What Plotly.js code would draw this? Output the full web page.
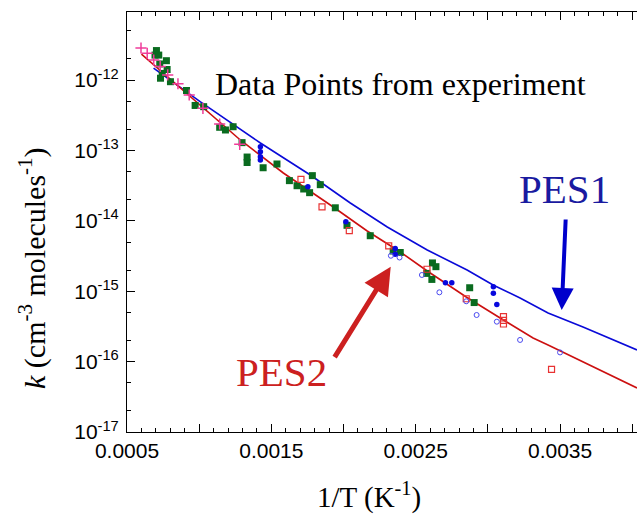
<!DOCTYPE html>
<html>
<head>
<meta charset="utf-8">
<script src="https://cdn.plot.ly/plotly-3.0.1.min.js"></script>
<style>html,body{margin:0;padding:0;background:#fff;}#chart{width:637px;height:516px;}</style>
</head>
<body>
<div id="chart"></div>
<script>
// PES1 calculated curve (1/T, k)
const pes1X = [0.000684, 0.001009, 0.001424, 0.00177, 0.002047, 0.002303, 0.00258, 0.002856, 0.003036, 0.003223, 0.003417, 0.003659, 0.004033];
const pes1K = [1.479e-12, 4.875e-13, 1.274e-13, 4.477e-14, 1.791e-14, 8.17e-15, 3.846e-15, 2.0e-15, 1.225e-15, 8.0e-16, 4.9e-16, 3.1e-16, 1.462e-16];
// PES2 calculated curve
const pes2X = [0.0006, 0.001009, 0.001285, 0.001583, 0.001929, 0.002164, 0.002393, 0.00258, 0.00285, 0.003085, 0.003313, 0.003417, 0.003777, 0.004033];
const pes2K = [2.339e-12, 4.28e-13, 1.406e-13, 4.775e-14, 1.570e-14, 7.16e-15, 3.61e-15, 1.936e-15, 8.28e-16, 4.16e-16, 2.163e-16, 1.722e-16, 7.60e-17, 4.22e-17];

// experimental data sets
const plusX = [0.000597, 0.00064, 0.000685, 0.00073, 0.000782, 0.000853, 0.000931, 0.001026, 0.001142, 0.001281];
const plusK = [2.85e-12, 2.39e-12, 1.92e-12, 1.56e-12, 1.18e-12, 8.85e-13, 6.12e-13, 3.96e-13, 2.37e-13, 1.22e-13];

const greenX = [0.000704, 0.000694, 0.00072, 0.000773, 0.000727, 0.000778, 0.000744, 0.000732, 0.000801, 0.000912, 0.000972, 0.001031, 0.001142, 0.001182, 0.001235, 0.001297, 0.001332, 0.001332, 0.001443, 0.001539, 0.001625, 0.001678, 0.001724, 0.001765, 0.001784, 0.001839, 0.001943, 0.002024, 0.002185, 0.002344, 0.002393, 0.002616, 0.00264, 0.002577, 0.002612, 0.002874, 0.002905];
const greenK = [2.62e-12, 2.26e-12, 2.26e-12, 1.88e-12, 1.69e-12, 1.41e-12, 1.24e-12, 1.06e-12, 9.46e-13, 7.10e-13, 4.35e-13, 4.18e-13, 2.13e-13, 1.95e-13, 2.17e-13, 1.29e-13, 8.05e-14, 6.73e-14, 5.67e-14, 6.41e-14, 3.72e-14, 3.15e-14, 2.83e-14, 2.51e-14, 4.38e-14, 3.26e-14, 1.53e-14, 8.63e-15, 6.14e-15, 3.72e-15, 3.55e-15, 2.52e-15, 2.23e-15, 1.79e-15, 1.47e-15, 1.12e-15, 6.90e-16];

const bdotX = [0.001424, 0.001424, 0.001424, 0.001424, 0.001753, 0.002016, 0.002358, 0.002358, 0.002706, 0.00275, 0.003038, 0.003038, 0.003062];
const bdotK = [1.13e-13, 9.60e-14, 8.15e-14, 7.31e-14, 3.05e-14, 9.70e-15, 4.05e-15, 3.36e-15, 1.32e-15, 1.32e-15, 1.16e-15, 9.33e-16, 6.47e-16];

const rsqX = [0.001705, 0.001851, 0.00204, 0.002313, 0.002578, 0.00285, 0.003108, 0.003108, 0.003108, 0.003441];
const rsqK = [3.88e-14, 1.58e-14, 7.23e-15, 4.39e-15, 2.05e-15, 7.81e-16, 4.34e-16, 3.84e-16, 3.42e-16, 7.73e-17];

const bcirX = [0.002328, 0.002388, 0.002543, 0.002664, 0.00285, 0.002922, 0.003062, 0.003223, 0.0035];
const bcirK = [3.19e-15, 3.01e-15, 1.70e-15, 9.64e-16, 7.19e-16, 4.59e-16, 3.69e-16, 2.03e-16, 1.35e-16];

// axis ticks
const xTickVals = [0.0005, 0.001, 0.0015, 0.002, 0.0025, 0.003, 0.0035, 0.004];
const xTickText = ['0.0005', '', '0.0015', '', '0.0025', '', '0.0035', ''];
const yTickVals = [1e-17, 1e-16, 1e-15, 1e-14, 1e-13, 1e-12, 1e-11];
const yTickText = ['10<sup>-17</sup>', '10<sup>-16</sup>', '10<sup>-15</sup>', '10<sup>-14</sup>', '10<sup>-13</sup>', '10<sup>-12</sup>', '10<sup>-11</sup>'];

const traces = [
  {x: pes1X, y: pes1K, mode: 'lines', line: {color: '#0a0ad8', width: 1.6}},
  {x: pes2X, y: pes2K, mode: 'lines', line: {color: '#cc1010', width: 1.6}},
  {x: greenX, y: greenK, mode: 'markers', marker: {symbol: 'square', size: 7, color: '#0a6b1f'}},
  {x: plusX, y: plusK, mode: 'markers', marker: {symbol: 'cross-thin', size: 8, line: {color: '#f03c9a', width: 1.5}}},
  {x: bdotX, y: bdotK, mode: 'markers', marker: {symbol: 'circle', size: 5.5, color: '#0808dd'}},
  {x: rsqX, y: rsqK, mode: 'markers', marker: {symbol: 'square-open', size: 6, color: '#e83232', line: {width: 1.2}}},
  {x: bcirX, y: bcirK, mode: 'markers', marker: {symbol: 'circle-open', size: 5, color: '#4a4af0', line: {width: 1}}}
];

const serif = "'Liberation Serif', 'Times New Roman', serif";
const sans = "'Liberation Sans', Arial, sans-serif";
const layout = {
  width: 637, height: 516,
  margin: {l: 127, r: 0, t: 12, b: 84},
  paper_bgcolor: '#fff', plot_bgcolor: '#fff',
  showlegend: false,
  font: {family: sans, color: '#000'},
  xaxis: {
    range: [0.0005, 0.004033],
    tickmode: 'array', tickvals: xTickVals, ticktext: xTickText,
    ticks: 'inside', ticklen: 8, tickwidth: 1, tickcolor: '#000',
    minor: {dtick: 0.0001, tick0: 0.0005, ticks: 'inside', ticklen: 4, tickwidth: 1, tickcolor: '#000', showgrid: false},
    showline: true, linecolor: '#000', linewidth: 1, mirror: 'ticks',
    showgrid: false, zeroline: false,
    tickfont: {size: 21, family: sans}
  },
  yaxis: {
    type: 'log', range: [-17, -11.034],
    tickmode: 'array', tickvals: yTickVals, ticktext: yTickText,
    ticks: 'inside', ticklen: 8, tickwidth: 1, tickcolor: '#000',
    minor: {ticks: 'inside', ticklen: 4, tickwidth: 1, tickcolor: '#000', showgrid: false},
    showline: true, linecolor: '#000', linewidth: 1,
    showgrid: false, zeroline: false, ticklabelstandoff: 3,
    tickfont: {size: 21, family: sans}
  },
  annotations: [
    {xref: 'paper', yref: 'paper', x: 0.4745, y: -0.152, xanchor: 'center', yanchor: 'middle', showarrow: false,
     text: '1/T (K<sup>-1</sup>)', font: {family: serif, size: 29, color: '#000'}},
    {xref: 'paper', yref: 'paper', x: -0.1843, y: 0.3905, xanchor: 'center', yanchor: 'middle', showarrow: false, textangle: -90,
     text: '<i>k</i> (cm<sup>-3</sup> molecules<sup>-1</sup>)', font: {family: serif, size: 30, color: '#000'}},
    {xref: 'paper', yref: 'paper', x: 0.1692, y: 0.8286, xanchor: 'left', yanchor: 'middle', showarrow: false,
     text: 'Data Points from experiment', font: {family: serif, size: 32, color: '#000'}},
    {xref: 'paper', yref: 'paper', x: 0.7641, y: 0.5786, xanchor: 'left', yanchor: 'middle', showarrow: false,
     text: 'PES1', font: {family: serif, size: 41, color: '#1a1aa0'}},
    {xref: 'paper', yref: 'paper', x: 0.2098, y: 0.1429, xanchor: 'left', yanchor: 'middle', showarrow: false,
     text: 'PES2', font: {family: serif, size: 41, color: '#cc2020'}},
    {xref: 'paper', yref: 'paper', x: 0.8524, y: 0.2905, text: '', showarrow: true,
     ax: 4, ay: -92, arrowhead: 2, arrowsize: 1.1, arrowwidth: 4, arrowcolor: '#0000cc'},
    {xref: 'paper', yref: 'paper', x: 0.5171, y: 0.3936, text: '', showarrow: true,
     ax: -57, ay: 92, arrowhead: 2, arrowsize: 1.1, arrowwidth: 5, arrowcolor: '#cc2020'}
  ]
};

Plotly.newPlot('chart', traces, layout, {staticPlot: true, displayModeBar: false});
</script>
</body>
</html>
